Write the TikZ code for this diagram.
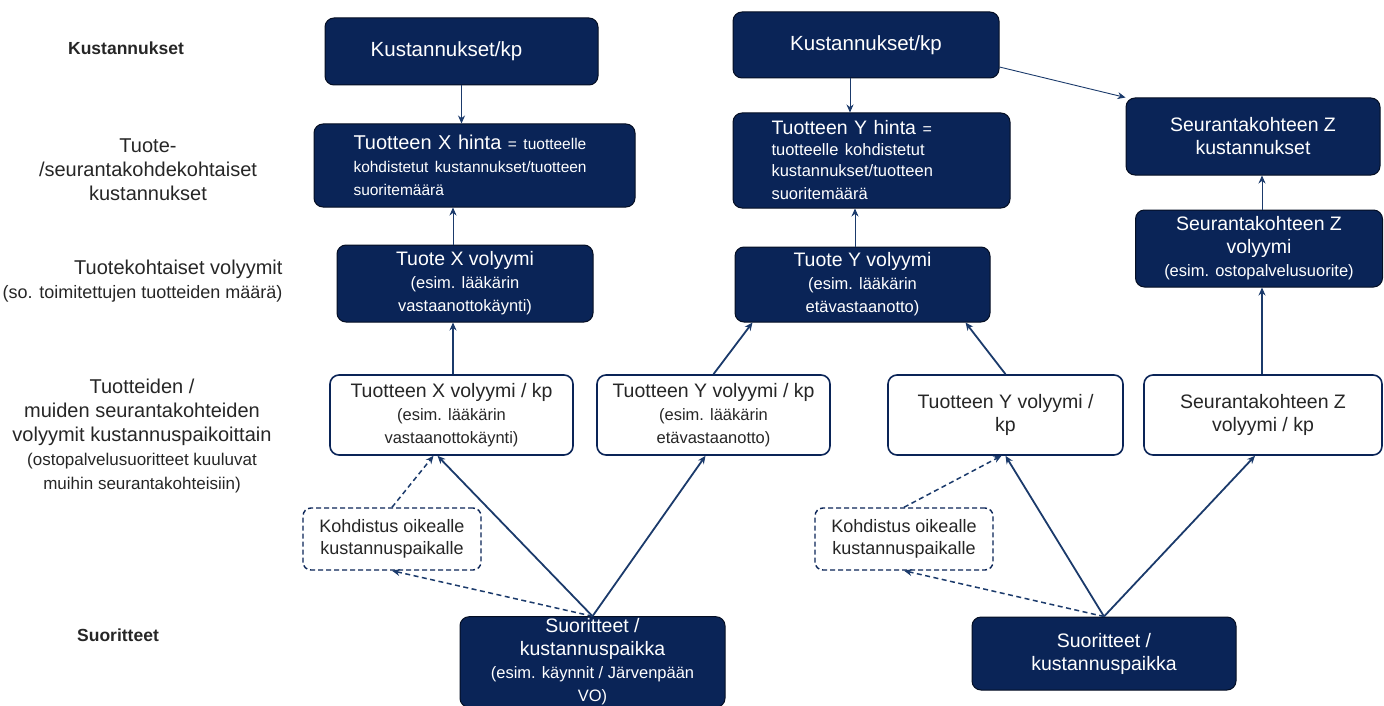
\documentclass[tikz,border=0pt]{standalone}
\usepackage{fontspec}
\setmainfont{Liberation Sans}
\usetikzlibrary{positioning,arrows.meta}
\definecolor{navy}{HTML}{0A2457}
\definecolor{linecol}{HTML}{1B3A6B}
\newcommand{\sm}{\fontsize{16.5}{19.5}\selectfont}

\begin{document}
\begin{tikzpicture}[
    x=1pt, y=-1pt,
    >={Stealth[length=8pt,width=7pt]},
    every node/.style={font=\fontsize{19.5}{23}\selectfont},
    darkbox/.style={draw=black!60!navy, fill=navy, text=white, rounded corners=9pt, line width=1pt, align=center, inner sep=2pt},
    whitebox/.style={draw=navy, fill=white, text=black!85, rounded corners=9pt, line width=1.6pt, align=center, inner sep=2pt},
    dashbox/.style={draw=navy, fill=white, text=black!85, rounded corners=8pt, line width=1.4pt, dash pattern=on 5pt off 3pt, align=center, inner sep=2pt},
    flow/.style={->, draw=linecol, line width=0.9pt},
    mainflow/.style={->, draw=linecol, line width=1.8pt},
    dashflow/.style={->, draw=linecol, line width=1.5pt, dash pattern=on 5pt off 3.5pt},
    rowlabel/.style={text=black!85, align=center, font=\fontsize{20}{24}\selectfont}
]
\useasboundingbox (0,0) rectangle (1384,706);

% rivien otsikot
\node[rowlabel, font=\bfseries\fontsize{17.5}{20}\selectfont] (lcost) at (126,48) {Kustannukset};
\node[rowlabel] (lprod) at (148,170) {Tuote-\\/seurantakohdekohtaiset\\kustannukset};
\node[rowlabel, align=right, anchor=east] (lvol) at (286,281) {Tuotekohtaiset volyymit\\{\fontsize{18}{22}\selectfont(so. toimitettujen tuotteiden määrä)}};
\node[rowlabel] (lkp) at (142,436) {Tuotteiden /\\muiden seurantakohteiden\\volyymit kustannuspaikoittain\\{\fontsize{17}{19.5}\selectfont(ostopalvelusuoritteet kuuluvat}\\{\fontsize{17}{19.5}\selectfont muihin seurantakohteisiin)}};
\node[rowlabel, font=\bfseries\fontsize{17.5}{20}\selectfont] (lsuor) at (118,635) {Suoritteet};

% kustannukset
\node[darkbox, minimum width=273pt, minimum height=67pt] (kp1) at (461.5,51.5) {\hspace*{-30pt}\fontsize{20.5}{24}\selectfont Kustannukset/kp};
\node[darkbox, minimum width=266pt, minimum height=66pt] (kp2) at (866,45) {\fontsize{20.5}{24}\selectfont Kustannukset/kp};

% hinnat
\node[darkbox, minimum width=321pt, minimum height=83pt, text width=242pt, align=left] (hx) at (474.5,165.5)
    {\fontsize{20}{23}\selectfont Tuotteen X hinta {\fontsize{15.5}{18}\selectfont = tuotteelle}\\{\fontsize{15.5}{19}\selectfont kohdistetut kustannukset/tuotteen}\\{\fontsize{15.5}{19}\selectfont suoritemäärä}};
\node[darkbox, minimum width=277pt, minimum height=95pt, text width=200pt, align=left] (hy) at (871.5,160.5)
    {\fontsize{19.5}{21}\selectfont Tuotteen Y hinta {\fontsize{16}{18}\selectfont =}\\{\fontsize{16.5}{18.5}\selectfont tuotteelle kohdistetut}\\{\fontsize{16.5}{18.5}\selectfont kustannukset/tuotteen}\\{\fontsize{16.5}{18.5}\selectfont suoritemäärä}};
\node[darkbox, minimum width=254pt, minimum height=77pt] (zc) at (1253,136.5) {Seurantakohteen Z\\kustannukset};

% volyymit
\node[darkbox, minimum width=256pt, minimum height=77pt] (vx) at (465,283.5) {Tuote X volyymi\\{\sm(esim. lääkärin}\\{\sm vastaanottokäynti)}};
\node[darkbox, minimum width=255pt, minimum height=75pt] (vy) at (862.5,284.5) {Tuote Y volyymi\\{\sm(esim. lääkärin}\\{\sm etävastaanotto)}};
\node[darkbox, minimum width=247pt, minimum height=77pt] (vz) at (1259,248.5) {Seurantakohteen Z\\volyymi\\{\sm(esim. ostopalvelusuorite)}};

% volyymit / kp
\node[whitebox, minimum width=243pt, minimum height=80pt] (wx) at (451.5,415) {Tuotteen X volyymi / kp\\{\sm(esim. lääkärin}\\{\sm vastaanottokäynti)}};
\node[whitebox, minimum width=233pt, minimum height=80pt] (wy1) at (713.5,415) {Tuotteen Y volyymi / kp\\{\sm(esim. lääkärin}\\{\sm etävastaanotto)}};
\node[whitebox, minimum width=235pt, minimum height=80pt] (wy2) at (1005.5,415) {Tuotteen Y volyymi /\\kp};
\node[whitebox, minimum width=238pt, minimum height=80pt] (wz) at (1263,415) {Seurantakohteen Z\\volyymi / kp};

% kohdistus
\node[dashbox, minimum width=178pt, minimum height=62pt, font=\fontsize{18}{22}\selectfont] (kd1) at (392,539) {Kohdistus oikealle\\kustannuspaikalle};
\node[dashbox, minimum width=178pt, minimum height=62pt, font=\fontsize{18}{22}\selectfont] (kd2) at (904,539) {Kohdistus oikealle\\kustannuspaikalle};

% suoritteet
\node[darkbox, minimum width=265pt, minimum height=89pt] (s1) at (592.5,662) {Suoritteet /\\kustannuspaikka\\{\sm(esim. käynnit / Järvenpään}\\{\sm VO)}};
\node[darkbox, minimum width=264pt, minimum height=73pt] (s2) at (1104,653.5) {Suoritteet /\\kustannuspaikka};

% yläosan nuolet
\draw[flow] (kp1.south) -- (kp1.south |- hx.north);
\draw[flow] (kp2.south -| 850,0) -- (hy.north -| 850,0);
\draw[flow] (kp2.east) ++(0,22) -- (zc.north west);
\draw[flow] (vx.north -| 453,0) -- (hx.south -| 453,0);
\draw[flow] (vy.north -| 855,0) -- (hy.south -| 855,0);
\draw[flow] (vz.north -| 1262,0) -- (zc.south -| 1262,0);

% alaosan nuolet
\draw[mainflow] (wx.north -| 453,0) -- (vx.south -| 453,0);
\draw[mainflow] (wy1.north) -- ([xshift=-110pt]vy.south);
\draw[mainflow] (wy2.north) -- ([xshift=103pt]vy.south);
\draw[mainflow] (wz.north -| 1262,0) -- (vz.south -| 1262,0);

\draw[mainflow] (s1.north) -- ([xshift=-14pt]wx.south);
\draw[mainflow] (s1.north) -- ([xshift=-8pt]wy1.south);
\draw[dashflow] (s1.north) -- (kd1.south);
\draw[dashflow] (kd1.north) -- ([xshift=-18pt]wx.south);

\draw[mainflow] (s2.north) -- (wy2.south);
\draw[mainflow] (s2.north) -- ([xshift=-8pt]wz.south);
\draw[dashflow] (s2.north) -- (kd2.south);
\draw[dashflow] (kd2.north) -- ([xshift=-4pt]wy2.south);
\end{tikzpicture}
\end{document}
